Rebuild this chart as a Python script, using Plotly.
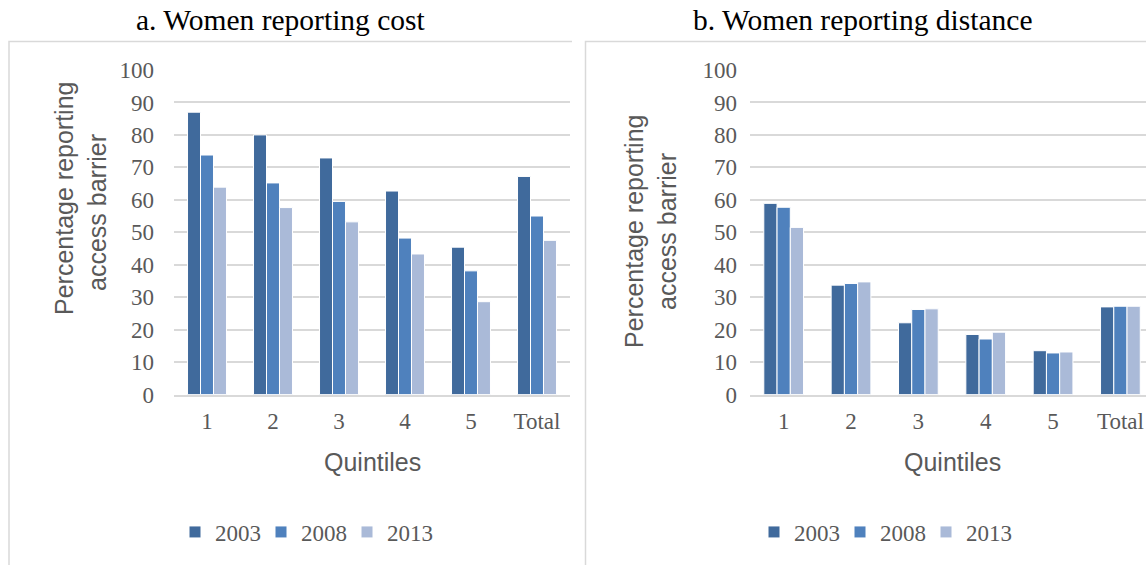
import plotly.graph_objects as go

# Data: share of women reporting each barrier to health-care access (%)
quintiles = ["1", "2", "3", "4", "5", "Total"]
years = ["2003", "2008", "2013"]

cost_2003 = [87.0, 80.0, 72.9, 62.7, 45.4, 67.2]
cost_2008 = [73.8, 65.2, 59.5, 48.2, 38.1, 55.0]
cost_2013 = [63.9, 57.6, 53.2, 43.3, 28.6, 47.5]

dist_2003 = [58.9, 33.7, 22.1, 18.5, 13.5, 27.0]
dist_2008 = [57.7, 34.2, 26.2, 17.1, 12.8, 27.2]
dist_2013 = [51.5, 34.7, 26.4, 19.2, 13.1, 27.2]

y_ticks = list(range(0, 101, 10))

colors = ["#406A9C", "#4F81BD", "#AABAD8"]

W, H = 1146, 565
SERIF = "Liberation Serif, Times New Roman, serif"
SANS = "Liberation Sans, Arial, sans-serif"
GREY = "#595959"
GRID = "#D9D9D9"


def px_x(x):
    return x / W


def px_y(y):
    return 1 - y / H


fig = go.Figure()

cost_series = [cost_2003, cost_2008, cost_2013]
dist_series = [dist_2003, dist_2008, dist_2013]

for name, vals, col in zip(years, cost_series, colors):
    fig.add_trace(go.Bar(
        x=quintiles, y=vals, name=name, marker_color=col,
        marker_line=dict(color="white", width=1),
        xaxis="x", yaxis="y", legend="legend", hoverinfo="y",
    ))
for name, vals, col in zip(years, dist_series, colors):
    fig.add_trace(go.Bar(
        x=quintiles, y=vals, name=name, marker_color=col,
        marker_line=dict(color="white", width=1),
        xaxis="x2", yaxis="y2", legend="legend2", hoverinfo="y",
    ))

y_domain = [px_y(394.5), px_y(70)]

common_y = dict(
    range=[0, 100], tickvals=y_ticks, showgrid=True, gridcolor=GRID,
    gridwidth=1.5, zeroline=False, showline=False, ticks="",
    tickfont=dict(family=SERIF, size=23, color=GREY), fixedrange=True,
    automargin=False,
)
common_x = dict(
    type="category", showgrid=False, zeroline=False, showline=True,
    linecolor=GRID, linewidth=1.5, ticks="",
    tickfont=dict(family=SERIF, size=23, color=GREY), fixedrange=True,
    ticklabelstandoff=5, automargin=False,
)

legend_common = dict(
    orientation="h", yanchor="middle", xanchor="left",
    font=dict(family=SERIF, size=23, color=GREY),
    entrywidth=41, itemclick=False, itemdoubleclick=False,
    bgcolor="rgba(0,0,0,0)",
)

fig.update_layout(
    width=W, height=H,
    margin=dict(l=0, r=0, t=0, b=0, autoexpand=False),
    paper_bgcolor="white", plot_bgcolor="white",
    barmode="group", bargap=0.41, bargroupgap=0,
    xaxis=dict(domain=[px_x(174), px_x(570)], anchor="y",
               range=[-0.5, 5.5], **common_x),
    yaxis=dict(domain=y_domain, anchor="x", ticklabelstandoff=19, **common_y),
    xaxis2=dict(domain=[px_x(750), 1.0], anchor="y2",
                range=[-0.5, 5.38], **common_x),
    yaxis2=dict(domain=y_domain, anchor="x2", ticklabelstandoff=12, **common_y),
    legend=dict(x=px_x(175), y=px_y(532), **legend_common),
    legend2=dict(x=px_x(754), y=px_y(532), **legend_common),
    showlegend=True,
)

# Panel frames
fig.add_shape(type="path", xref="paper", yref="paper",
              path=f"M {px_x(9)},{px_y(575)} L {px_x(9)},{px_y(41.5)} L {px_x(572)},{px_y(41.5)}",
              line=dict(color=GRID, width=1.5), layer="below")
fig.add_shape(type="path", xref="paper", yref="paper",
              path=f"M {px_x(585.5)},{px_y(575)} L {px_x(585.5)},{px_y(41.5)} L {px_x(1160)},{px_y(41.5)}",
              line=dict(color=GRID, width=1.5), layer="below")

annotations = []
# Panel titles
annotations.append(dict(text="a. Women reporting cost", x=px_x(281), y=px_y(20),
                        xref="paper", yref="paper", showarrow=False,
                        xanchor="center", yanchor="middle",
                        font=dict(family=SERIF, size=29.5, color="#000000")))
annotations.append(dict(text="b. Women reporting distance", x=px_x(863), y=px_y(20),
                        xref="paper", yref="paper", showarrow=False,
                        xanchor="center", yanchor="middle",
                        font=dict(family=SERIF, size=29.5, color="#000000")))

# Y-axis titles (two lines each)
for (xc, yc, txt) in [(64, 199, "Percentage reporting"), (97, 213, "access barrier"),
                      (634, 232, "Percentage reporting"), (667, 232, "access barrier")]:
    annotations.append(dict(text=txt, x=px_x(xc), y=px_y(yc), xref="paper", yref="paper",
                            showarrow=False, textangle=-90, xanchor="center",
                            yanchor="middle", font=dict(family=SANS, size=25, color=GREY)))

# X-axis titles
annotations.append(dict(text="Quintiles", x=2.5, y=px_y(462), xref="x", yref="paper",
                        showarrow=False, xanchor="center", yanchor="middle",
                        font=dict(family=SANS, size=25, color=GREY)))
annotations.append(dict(text="Quintiles", x=2.5, y=px_y(462), xref="x2", yref="paper",
                        showarrow=False, xanchor="center", yanchor="middle",
                        font=dict(family=SANS, size=25, color=GREY)))

fig.update_layout(annotations=annotations)

fig.write_html("out.html", config={"displayModeBar": False})
